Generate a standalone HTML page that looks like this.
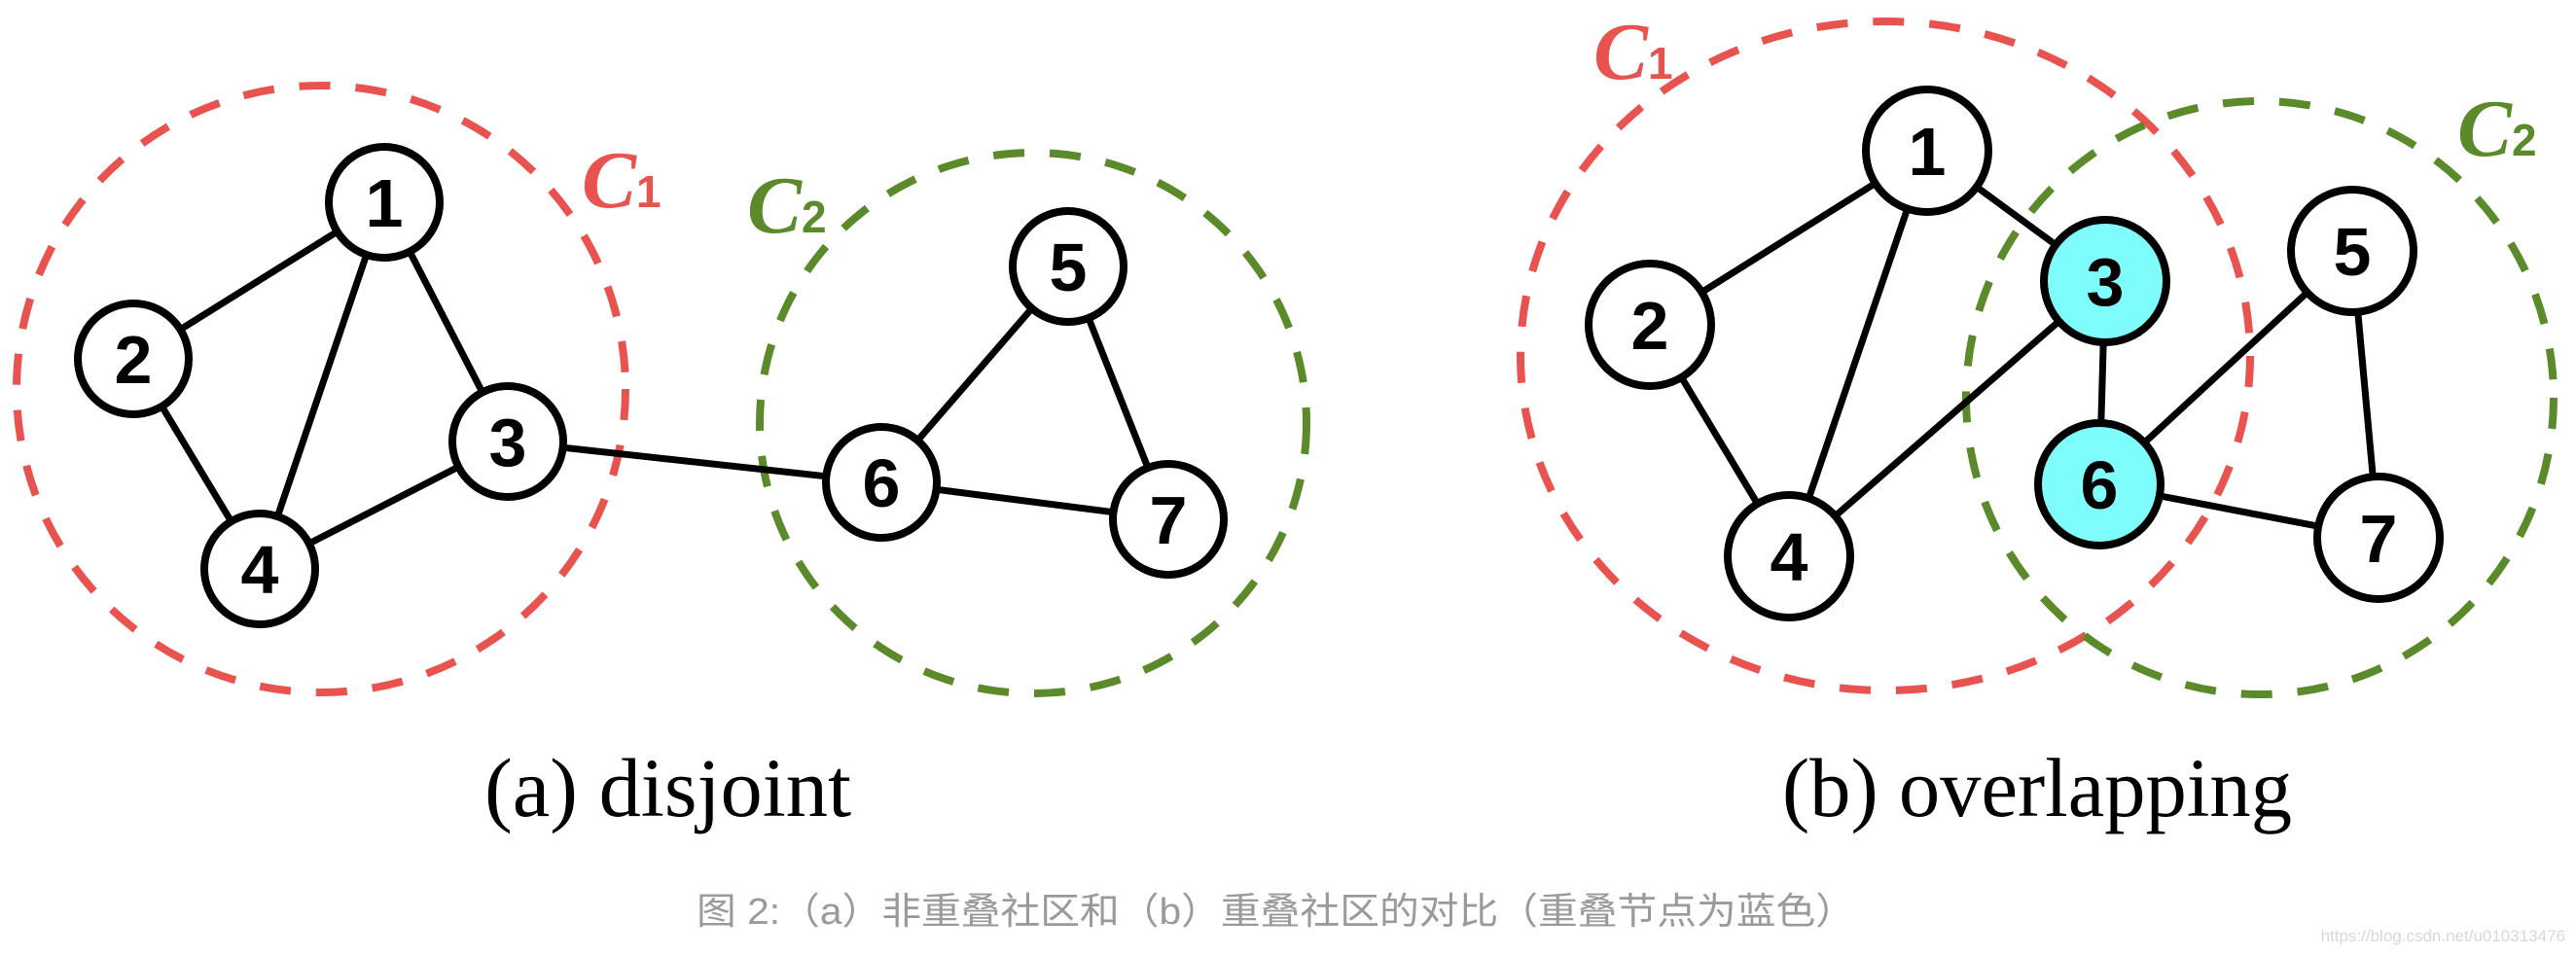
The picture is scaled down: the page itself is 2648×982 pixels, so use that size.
<!DOCTYPE html>
<html><head><meta charset="utf-8"><style>
html,body{margin:0;padding:0;background:#fff;}
svg{display:block;}
</style></head><body>
<svg width="2648" height="982" viewBox="0 0 2648 982" xmlns="http://www.w3.org/2000/svg">
<rect width="2648" height="982" fill="#fff"/>
<g id="left"></g>
<g id="right"></g>
<text x="498" y="839" font-family="Liberation Serif, serif" font-size="86" fill="#000" textLength="377" lengthAdjust="spacingAndGlyphs">(a)  disjoint</text>
<text x="1832" y="839" font-family="Liberation Serif, serif" font-size="86" fill="#000" textLength="524" lengthAdjust="spacingAndGlyphs">(b)  overlapping</text>
<text x="716" y="950" font-family="Liberation Sans, Noto Sans CJK SC, sans-serif" font-size="38" fill="#9a9a9a" textLength="1191" lengthAdjust="spacingAndGlyphs">图 2:（a）非重叠社区和（b）重叠社区的对比（重叠节点为蓝色）</text>
<text x="2637" y="968" text-anchor="end" font-family="Liberation Sans, sans-serif" font-size="17" fill="#d8d8d8">https://blog.csdn.net/u010313476</text>
</svg>
<script>
const NS='http://www.w3.org/2000/svg';
const leftNodes=[[1,395,208],[2,137,369],[3,522,454],[4,267,585],[5,1098,274],[6,906,496],[7,1201,534]];
const rightNodes=[[1,1981,155],[2,1696,334],[3,2164,289],[4,1839,572],[5,2418,258],[6,2158,498],[7,2445,553]];
const leftEdges=[[1,2],[1,3],[1,4],[2,4],[3,4],[3,6],[5,6],[5,7],[6,7]];
const rightEdges=[[1,2],[1,3],[1,4],[2,4],[3,4],[3,6],[5,6],[5,7],[6,7]];
const highlighted=[3,6];
function mk(tag,attrs,parent){const e=document.createElementNS(NS,tag);for(const k in attrs)e.setAttribute(k,attrs[k]);parent.appendChild(e);return e;}
function panel(g,nodes,edges,circles,labels,r,hl){
  circles.forEach(c=>{
    const e=mk('ellipse',{cx:c[0],cy:c[1],rx:c[2],ry:c[3],fill:'none',stroke:c[4],'stroke-width':8,'stroke-dasharray':'32 26'},g);
    
    
  });
  labels.forEach(l=>{
    const t=mk('text',{x:l[0],y:l[1],fill:l[2],'font-family':'Liberation Serif, serif','font-style':'italic','font-weight':'bold','font-size':84},g);
    
    
    t.textContent='C';
    const s=mk('tspan',{'font-style':'normal','font-weight':'bold','font-family':'Liberation Sans, sans-serif','font-size':46},t);s.textContent=l[3].slice(1);
  });
  const pos={};nodes.forEach(n=>pos[n[0]]=n);
  edges.forEach(e=>{
    const a=pos[e[0]],b=pos[e[1]];
    const l=mk('line',{x1:a[1],y1:a[2],x2:b[1],y2:b[2],stroke:'#000','stroke-width':7},g);
    
    
  });
  nodes.forEach(n=>{
    const c=mk('circle',{cx:n[1],cy:n[2],r:r,fill:hl.includes(n[0])?'#7ffcfc':'#fff',stroke:'#000','stroke-width':8},g);
    
    
    const t=mk('text',{x:n[1],y:n[2]+25,'text-anchor':'middle','font-family':'Liberation Sans, sans-serif','font-weight':'bold','font-size':70},g);
    
    
    t.textContent=n[0];
  });
}
panel(document.getElementById('left'),leftNodes,leftEdges,
 [[330,400,313,312,'#e8534f','c1'],[1062,435,281,278,'#5b8a2a','c2']],
 [[598,213,'#e8534f','C1'],[768,239,'#5b8a2a','C2']],57,[]);
panel(document.getElementById('right'),rightNodes,rightEdges,
 [[1938,366,375,344,'#e8534f','c1'],[2323,409,302,305,'#5b8a2a','c2']],
 [[1638,81,'#e8534f','C1'],[2526,160,'#5b8a2a','C2']],63,highlighted);
</script>
</body></html>
